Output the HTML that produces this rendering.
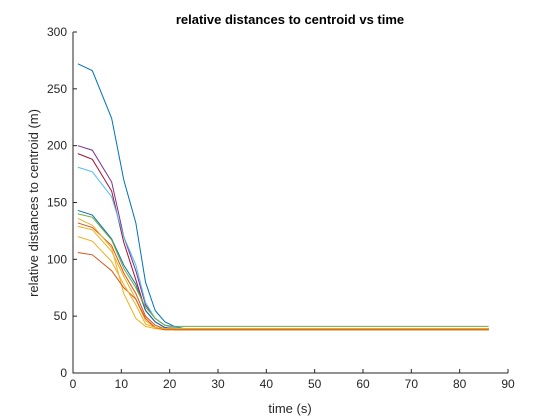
<!DOCTYPE html>
<html><head><meta charset="utf-8"><style>
body{margin:0;background:#fff;}
svg{display:block;font-family:"Liberation Sans",sans-serif;}
</style></head><body>
<svg id="c" width="560" height="420"></svg>
<script>
const times=[1,4,8,10.5,13,15,17,19,21,23,86];
const colors=["#0072BD","#7E2F8E","#A2142F","#4DBEEE","#0072BD","#77AC30","#D95319","#EDB120","#EDB120","#D95319","#EDB120"];
const s1=[272,266,224,170,132,80,55,45,41,39,39];
const s2=[200,196,168,120,90,60,48,42,40,39,39];
const s3=[193,188,160,115,82,55,45,40,39,38,38];
const s4=[181,177,155,120,95,62,48,42,40,39,39];
const s5=[143,139,118,95,78,55,45,40,38,38,38];
const s6=[140,137,117,92,75,58,48,42,41,41,41];
const s7=[132,128,112,88,70,50,42,39,38,38,38];
const s8=[129,126,107,85,65,46,40,39,38,38,38];
const s9=[136,130,110,70,48,41,39,38,38,38,38];
const s10=[106,104,90,75,65,48,40,38,38,38,38];
const s11=[120,116,98,78,60,43,40,39,39,39,39];
const series=[s1,s2,s3,s4,s5,s6,s7,s8,s9,s10,s11];
const xTicks=[0,10,20,30,40,50,60,70,80,90];
const yTicks=[0,50,100,150,200,250,300];
const X0=73,X1=508,Y0=373,Y1=32;
const xs=v=>X0+(X1-X0)*v/90, ys=v=>Y0-(Y0-Y1)*v/300;
const svg=document.getElementById('c');const NS="http://www.w3.org/2000/svg";
function mk(t,a,txt){const e=document.createElementNS(NS,t);for(const k in a)e.setAttribute(k,a[k]);if(txt!==undefined)e.textContent=txt;svg.appendChild(e);return e;}
series.forEach((s,i)=>{
 const p=mk('polyline',{points:s.map((v,j)=>xs(times[j])+','+ys(v)).join(' '),fill:'none',stroke:colors[i],'stroke-width':1});
 
 
});
let a=mk('path',{d:`M${X0},${Y1}V${Y0}H${X1}`,fill:'none',stroke:'#262626','stroke-width':1});


xTicks.forEach(t=>{
 mk('line',{x1:xs(t),x2:xs(t),y1:Y0,y2:Y0-4,stroke:'#262626'});
 const e=mk('text',{x:xs(t),y:Y0+15,'text-anchor':'middle','font-size':12,fill:'#262626'},t);
 
 
});
yTicks.forEach(t=>{
 mk('line',{x1:X0,x2:X0+4,y1:ys(t),y2:ys(t),stroke:'#262626'});
 const e=mk('text',{x:X0-6,y:ys(t)+4,'text-anchor':'end','font-size':12,fill:'#262626'},t);
 
 
});
let t=mk('text',{x:290,y:24,'text-anchor':'middle','font-size':13,'font-weight':'bold',fill:'#000'},'relative distances to centroid vs time');


t=mk('text',{x:290,y:413,'text-anchor':'middle','font-size':13,fill:'#262626'},'time (s)');


t=mk('text',{x:0,y:0,transform:'translate(38,203) rotate(-90)','text-anchor':'middle','font-size':13,fill:'#262626'},'relative distances to centroid (m)');


</script>
</body></html>
